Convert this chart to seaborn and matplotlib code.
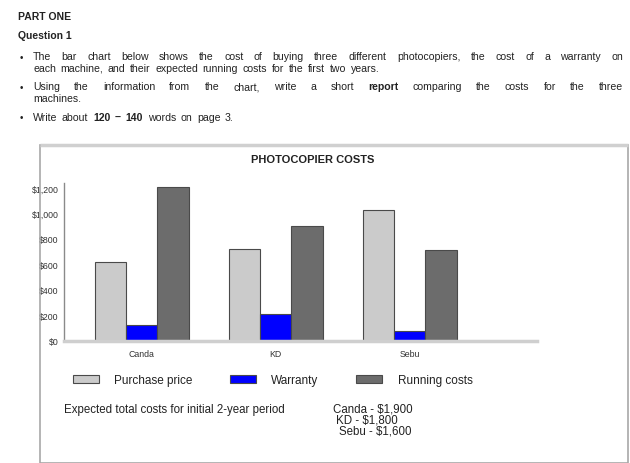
import pandas as pd
import numpy as np
import matplotlib.pyplot as plt
import seaborn as sns
from matplotlib.patches import Rectangle

# values
machines = ["Canda", "KD", "Sebu"]
purchase = [620, 720, 1030]
warranty = [125, 215, 75]
running = [1210, 900, 710]
series = ["Purchase price", "Warranty", "Running costs"]
colors = ["#cbcbcb", "#0000ff", "#6c6c6c"]
yticks = [0, 200, 400, 600, 800, 1000, 1200]
ylabels = ["$0", "$200", "$400", "$600", "$800", "$1,000", "$1,200"]
totals = ["Canda - $1,900", "KD - $1,800", "Sebu - $1,600"]

df = pd.DataFrame({"machine": machines * 3,
                   "series": np.repeat(series, 3),
                   "cost": purchase + warranty + running})

sns.set_style("white")
plt.rcParams["font.family"] = ["Liberation Sans", "DejaVu Sans"]

W, H = 630, 464
fig = plt.figure(figsize=(W / 100, H / 100), dpi=100)
rend = fig.canvas.get_renderer()


def fx(px):
    return px / W


def fy(py):
    return 1 - py / H


tc = "#222222"
fs = 7.6

fig.text(fx(18), fy(17), "PART ONE", fontsize=7.5, weight="bold", color=tc, va="center")
fig.text(fx(18), fy(36), "Question 1", fontsize=7.5, weight="bold", color=tc, va="center")


def width_of(s, bold):
    t = fig.text(0, 0, s, fontsize=fs, weight="bold" if bold else "normal")
    w = t.get_window_extent(rend).width
    t.remove()
    return w


def rich_line(x, y, parts, right=None, gap_scale=1.0):
    # words drawn one by one so the line can be justified, some words bold
    words = [(w, b) for txt, b in parts for w in txt.split()]
    widths = [width_of(w, b) for w, b in words]
    gap = (width_of("x x", False) - width_of("xx", False)) * gap_scale
    if right is not None:
        gap = (right - x - sum(widths)) / (len(words) - 1)
    for (w, b), wd in zip(words, widths):
        fig.text(fx(x), fy(y), w, fontsize=fs, color=tc, va="center",
                 weight="bold" if b else "normal")
        x += wd + gap


for by in [58, 88, 118]:
    fig.text(fx(20), fy(by), "\u2022", fontsize=7, color=tc, va="center")

rich_line(33, 57.5, [("The bar chart below shows the cost of buying three different photocopiers, "
                      "the cost of a warranty on", False)], right=623)
rich_line(33, 68.5, [("each machine, and their expected running costs for the first two years.", False)],
          gap_scale=1.6)
rich_line(33, 87.5, [("Using the information from the chart, write a short", False), ("report", True),
                     ("comparing the costs for the three", False)], right=623)
rich_line(33, 98.5, [("machines.", False)])
rich_line(33, 118, [("Write about", False), ("120 \u2013 140", True), ("words on page 3.", False)],
          gap_scale=1.6)

# frame around the chart
fig.patches.append(Rectangle((fx(40), 0), fx(588), (H - 146) / H, transform=fig.transFigure,
                             fill=False, edgecolor="#a8a8a8", lw=1.2))
fig.patches.append(Rectangle((fx(40), fy(146)), fx(588), 0, transform=fig.transFigure,
                             fill=False, edgecolor="#d0d0d0", lw=2.5))

# chart
ax = fig.add_axes([fx(64), fy(342), fx(537 - 64), (342 - 182.6) / H])
sns.barplot(data=df, x="machine", y="cost", hue="series", hue_order=series,
            palette=colors, width=0.7, gap=0, edgecolor="#4a4a4a", linewidth=0.8,
            saturation=1, ax=ax, legend=True)
ax.set_xlim(-0.58, 2.95)
ax.set_ylim(0, 1250)
ax.set_yticks(yticks)
ax.set_yticklabels(ylabels, fontsize=6.3, color="#333333")
ax.tick_params(axis="y", length=0, pad=4)
ax.tick_params(axis="x", length=0, pad=6, labelsize=6.3, labelcolor="#333333")
ax.set_xlabel("")
ax.set_ylabel("")
for s in ["top", "right"]:
    ax.spines[s].set_visible(False)
ax.spines["left"].set_color("#8a8a8a")
ax.spines["left"].set_linewidth(1)
ax.spines["left"].set_bounds(0, 1240)
ax.spines["bottom"].set_color("#cfcfcf")
ax.spines["bottom"].set_linewidth(2.5)

fig.text(fx(313), fy(160), "PHOTOCOPIER COSTS", fontsize=8, weight="bold",
         color=tc, ha="center", va="center")

# legend below the chart
handles, labels = ax.get_legend_handles_labels()
ax.get_legend().remove()
fig.legend(handles, labels, loc="center left", bbox_to_anchor=(fx(62), fy(381)), ncol=3,
           frameon=False, fontsize=8.5, handlelength=2.2, handleheight=0.7,
           handletextpad=1.3, columnspacing=3.2, labelcolor=tc)

fig.text(fx(64), fy(410), "Expected total costs for initial 2-year period", fontsize=8.3,
         color=tc, va="center")
for i, t in enumerate(totals):
    fig.text(fx(333 + 3 * i), fy(410 + 11 * i), t, fontsize=8.3, color=tc, va="center")

fig.savefig("out.png", dpi=100)
